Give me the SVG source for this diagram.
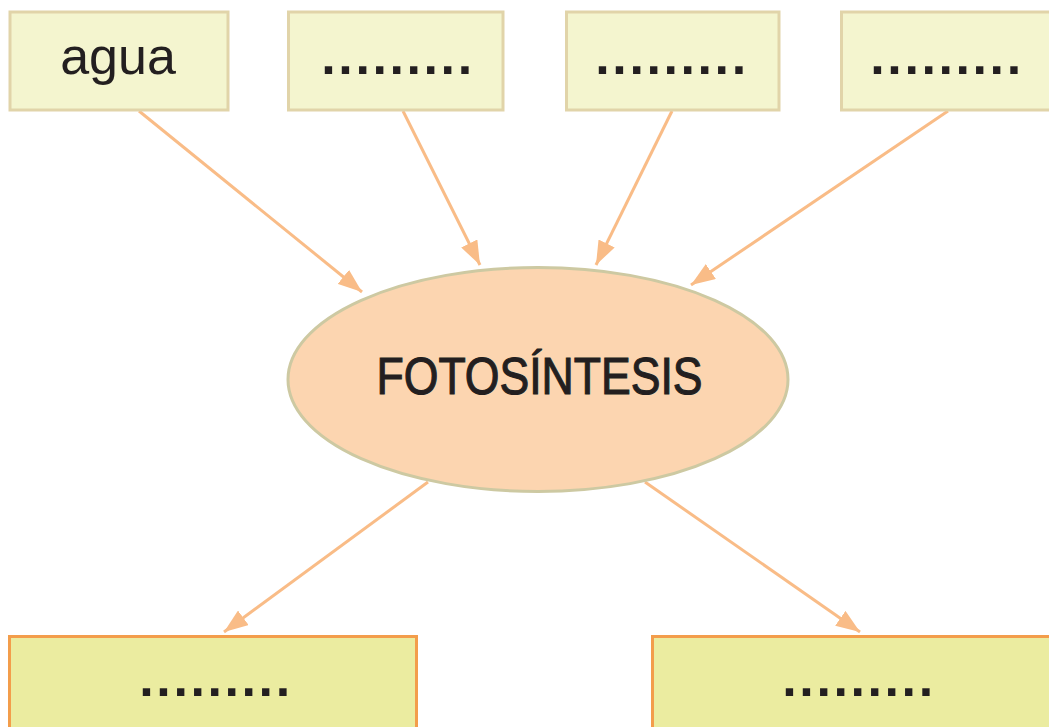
<svg xmlns="http://www.w3.org/2000/svg" width="1049" height="727" viewBox="0 0 1049 727">
<style>
.top{fill:#f4f5cf;stroke:#e1d4a9;stroke-width:3}
.bot{fill:#ebeca0;stroke:#f39d4b;stroke-width:3}
.lbl{font-family:"Liberation Sans",Arial,sans-serif;font-size:52px;fill:#231f20;text-anchor:middle}
.dots{font-family:"Liberation Sans",Arial,sans-serif;font-size:52px;font-weight:bold;fill:#231f20;text-anchor:middle;letter-spacing:2.6px}
.conn{stroke:#f9bc87;stroke-width:3;fill:none;marker-end:url(#ah)}
</style>
<defs>
<marker id="ah" viewBox="0 0 24 18" refX="24" refY="9" markerWidth="24" markerHeight="18" markerUnits="userSpaceOnUse" orient="auto">
<path d="M0,0 L24,9 L0,18 z" fill="#f9bc87"/>
</marker>
</defs>
<rect width="1049" height="727" fill="#ffffff"/>
<g id="connectors">
<line class="conn" x1="139" y1="111" x2="362" y2="292"/>
<line class="conn" x1="403" y1="111" x2="480" y2="265"/>
<line class="conn" x1="672" y1="111" x2="596" y2="265"/>
<line class="conn" x1="948" y1="111" x2="691" y2="285"/>
<line class="conn" x1="428" y1="482" x2="224" y2="632"/>
<line class="conn" x1="645" y1="482" x2="860" y2="632"/>
</g>
<g id="n-agua">
<rect class="top" x="10" y="12" width="218" height="98"/>
<text class="lbl" x="118" y="74">agua</text>
</g>
<g id="n-in2">
<rect class="top" x="288.5" y="12" width="214.5" height="98"/>
<text class="dots" x="398" y="74">.........</text>
</g>
<g id="n-in3">
<rect class="top" x="566.5" y="12" width="212.5" height="98"/>
<text class="dots" x="672" y="74">.........</text>
</g>
<g id="n-in4">
<rect class="top" x="841.5" y="12" width="214" height="98"/>
<text class="dots" x="947" y="74">.........</text>
</g>
<g id="n-foto">
<ellipse cx="538" cy="379.5" rx="250" ry="112" fill="#fcd5b0" stroke="#cdc9a2" stroke-width="3"/>
<text x="539.5" y="394" font-family="'Liberation Sans',Arial,sans-serif" font-size="51" fill="#231f20" stroke="#231f20" stroke-width="1.1" text-anchor="middle" textLength="326" lengthAdjust="spacingAndGlyphs">FOTOSÍNTESIS</text>
</g>
<g id="n-out1">
<rect class="bot" x="9.5" y="636.5" width="407" height="100"/>
<text class="dots" x="216" y="696">.........</text>
</g>
<g id="n-out2">
<rect class="bot" x="652.5" y="636.5" width="412" height="100"/>
<text class="dots" x="859" y="696">.........</text>
</g>
</svg>
